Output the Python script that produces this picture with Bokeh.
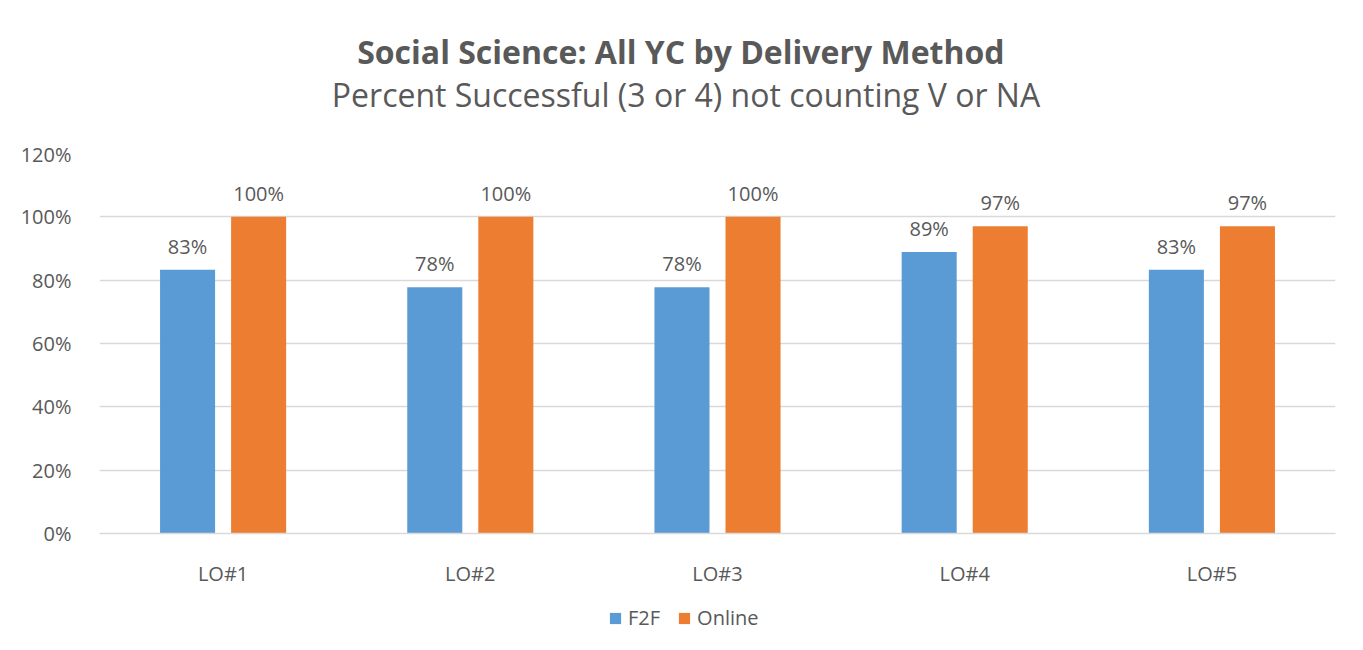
from bokeh.plotting import figure
from bokeh.layouts import column
from bokeh.models import ColumnDataSource, FactorRange, Legend, LegendItem, NumeralTickFormatter, Range1d, Label
from bokeh.transform import dodge
from bokeh.core.properties import value
from bokeh.embed import file_html
from bokeh.resources import INLINE

categories = ["LO#1", "LO#2", "LO#3", "LO#4", "LO#5"]
f2f = [0.833, 0.778, 0.778, 0.889, 0.833]
online = [1.00, 1.00, 1.00, 0.97, 0.97]
series_names = ["F2F", "Online"]
title_text = "Social Science:  All YC by Delivery Method"
subtitle_text = "Percent Successful (3 or 4) not counting V or NA"

BLUE = "#5B9BD5"
ORANGE = "#ED7D31"
TXT = "#595959"
GRID = "#D9D9D9"
FONT = "Open Sans"
W = 1360
FL, FR = 99, 1335  # frame edges (page px); column aligns all frames


def strip(h):
    f = figure(width=W, height=h, output_backend="svg", toolbar_location=None,
               x_range=Range1d(FL, FR), y_range=Range1d(0, h),
               x_axis_location=None, y_axis_location=None,
               min_border_left=FL, min_border_right=W - FR, min_border_top=0, min_border_bottom=0)
    f.grid.visible = False
    f.outline_line_color = None
    return f


# header with title and subtitle
HH = 140
hdr = strip(HH)
hdr.add_layout(Label(x=684.5, y=HH - 51, text=title_text, text_align="center", text_baseline="alphabetic",
                     text_font=FONT, text_font_size="32px", text_font_style="bold", text_color=TXT))
hdr.add_layout(Label(x=685.5, y=HH - 94, text=subtitle_text, text_align="center", text_baseline="alphabetic",
                     text_font=FONT, text_font_size="32px", text_color=TXT))

src = ColumnDataSource(dict(
    cat=categories, f2f=f2f, online=online,
    f2f_lbl=[f"{round(v*100)}%" for v in f2f],
    online_lbl=[f"{round(v*100)}%" for v in online],
))

H = 450
p = figure(x_range=FactorRange(*categories, range_padding=0), y_range=Range1d(0, 1.2),
           width=W, height=H, output_backend="svg", toolbar_location=None,
           min_border_left=FL, min_border_right=W - FR, min_border_top=153 - HH,
           min_border_bottom=H - (533 - HH))

off = 35.5 / 247
w = 55 / 247
r1 = p.vbar(x=dodge("cat", -off, range=p.x_range), top="f2f", width=w, source=src,
            fill_color=BLUE, line_color=None)
r2 = p.vbar(x=dodge("cat", off, range=p.x_range), top="online", width=w, source=src,
            fill_color=ORANGE, line_color=None)

p.text(x=dodge("cat", -off, range=p.x_range), y="f2f", text="f2f_lbl", source=src,
       text_align="center", text_baseline="bottom", y_offset=-10,
       text_font=value(FONT), text_font_size="20px", text_color=TXT)
p.text(x=dodge("cat", off, range=p.x_range), y="online", text="online_lbl", source=src,
       text_align="center", text_baseline="bottom", y_offset=-10,
       text_font=value(FONT), text_font_size="20px", text_color=TXT)

p.yaxis.ticker = [0, 0.2, 0.4, 0.6, 0.8, 1.0, 1.2]
p.yaxis.formatter = NumeralTickFormatter(format="0%")
p.yaxis.axis_line_color = None
p.yaxis.major_tick_line_color = None
p.yaxis.minor_tick_line_color = None
p.yaxis.major_label_standoff = 22
p.yaxis.major_label_text_font = FONT
p.yaxis.major_label_text_font_size = "20px"
p.yaxis.major_label_text_color = TXT

p.xaxis.axis_line_color = GRID
p.xaxis.axis_line_width = 1.5
p.xaxis.major_tick_line_color = None
p.xaxis.minor_tick_line_color = None
p.xaxis.major_label_standoff = 20
p.xaxis.major_label_text_font = FONT
p.xaxis.major_label_text_font_size = "20px"
p.xaxis.major_label_text_color = TXT

p.xgrid.grid_line_color = None
p.ygrid.grid_line_color = GRID
p.ygrid.grid_line_width = 1.5
p.outline_line_color = None

# legend strip below the chart (zero-size proxy glyphs carry the legend swatches)
lg = strip(52)
e1 = lg.rect(x=0, y=0, width=0, height=0, fill_color=BLUE, line_color=None)
e2 = lg.rect(x=0, y=0, width=0, height=0, fill_color=ORANGE, line_color=None)
legend = Legend(items=[LegendItem(label=series_names[0], renderers=[e1]),
                       LegendItem(label=series_names[1], renderers=[e2])],
                orientation="horizontal", location=(608 - FL, 11),
                label_text_font=FONT, label_text_font_size="20px", label_text_color=TXT,
                glyph_width=14, glyph_height=14, spacing=17, label_standoff=6,
                border_line_color=None, background_fill_alpha=0, margin=0, padding=5)
lg.add_layout(legend, "center")

open("out.html", "w").write(file_html(column(hdr, p, lg, spacing=0), INLINE))
